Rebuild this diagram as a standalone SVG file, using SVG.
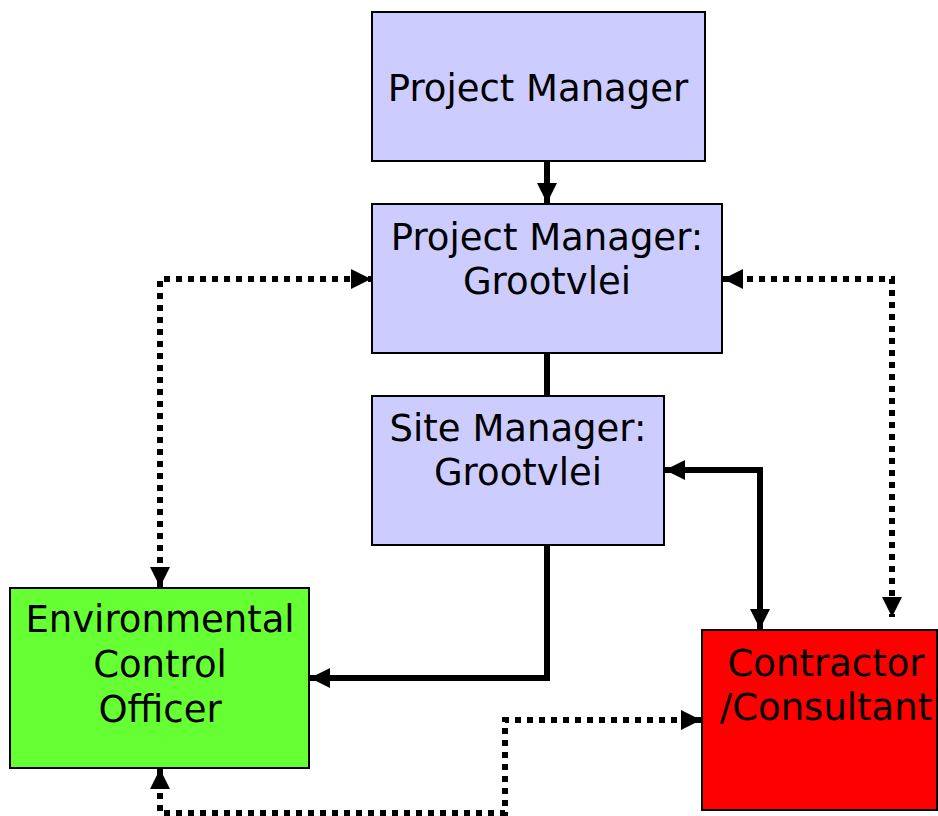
<svg xmlns="http://www.w3.org/2000/svg" width="938" height="816" viewBox="0 0 938 816">
<style>
.box{stroke:#000;stroke-width:2}
.lav{fill:#CCCCFF}
.t{font-family:"DejaVu Sans",Verdana,sans-serif;font-size:37px;fill:#000;text-anchor:middle}
.solid{fill:none;stroke:#000;stroke-width:6}
.dot{fill:none;stroke:#000;stroke-width:6;stroke-dasharray:6 6}
</style>
<defs>
<marker id="ah" viewBox="0 0 10 10" refX="10" refY="5" markerWidth="20" markerHeight="20" orient="auto-start-reverse" markerUnits="userSpaceOnUse">
<path d="M0,0 L10,5 L0,10 z" fill="#000"/>
</marker>
</defs>
<g id="pm"><rect class="box lav" x="372" y="12" width="333" height="149"/><text class="t" x="538" y="101">Project Manager</text></g>
<g id="pmg"><rect class="box lav" x="372" y="204" width="350" height="149"/><text class="t" x="547" y="250">Project Manager:</text><text class="t" x="547" y="294">Grootvlei</text></g>
<g id="sm"><rect class="box lav" x="372" y="396" width="292" height="149"/><text class="t" x="518" y="441">Site Manager:</text><text class="t" x="518" y="485">Grootvlei</text></g>
<g id="eco"><rect class="box" fill="#66FF33" x="10" y="588" width="299" height="180"/><text class="t" x="160" y="632">Environmental</text><text class="t" x="160" y="677">Control</text><text class="t" x="160" y="722">Officer</text></g>
<g id="cc"><rect class="box" fill="#FF0000" x="702" y="630" width="235" height="180"/><text class="t" x="826" y="676">Contractor</text><text class="t" x="826" y="720">/Consultant</text></g>
<g id="connectors">
<path class="solid" d="M547,161 V203" marker-end="url(#ah)"/>
<path class="solid" d="M547,353 V396"/>
<path class="solid" d="M547,545 V678 H310" marker-end="url(#ah)"/>
<path class="solid" d="M665,470 H760 V629" marker-start="url(#ah)" marker-end="url(#ah)"/>
<path class="dot" d="M160,587 V279 H371" marker-start="url(#ah)" marker-end="url(#ah)"/>
<path class="dot" d="M723,279 H892 V617" marker-start="url(#ah)" marker-end="url(#ah)"/>
<path class="dot" d="M160,769 V813 H505 V720 H701" marker-start="url(#ah)" marker-end="url(#ah)"/>
</g>
</svg>
